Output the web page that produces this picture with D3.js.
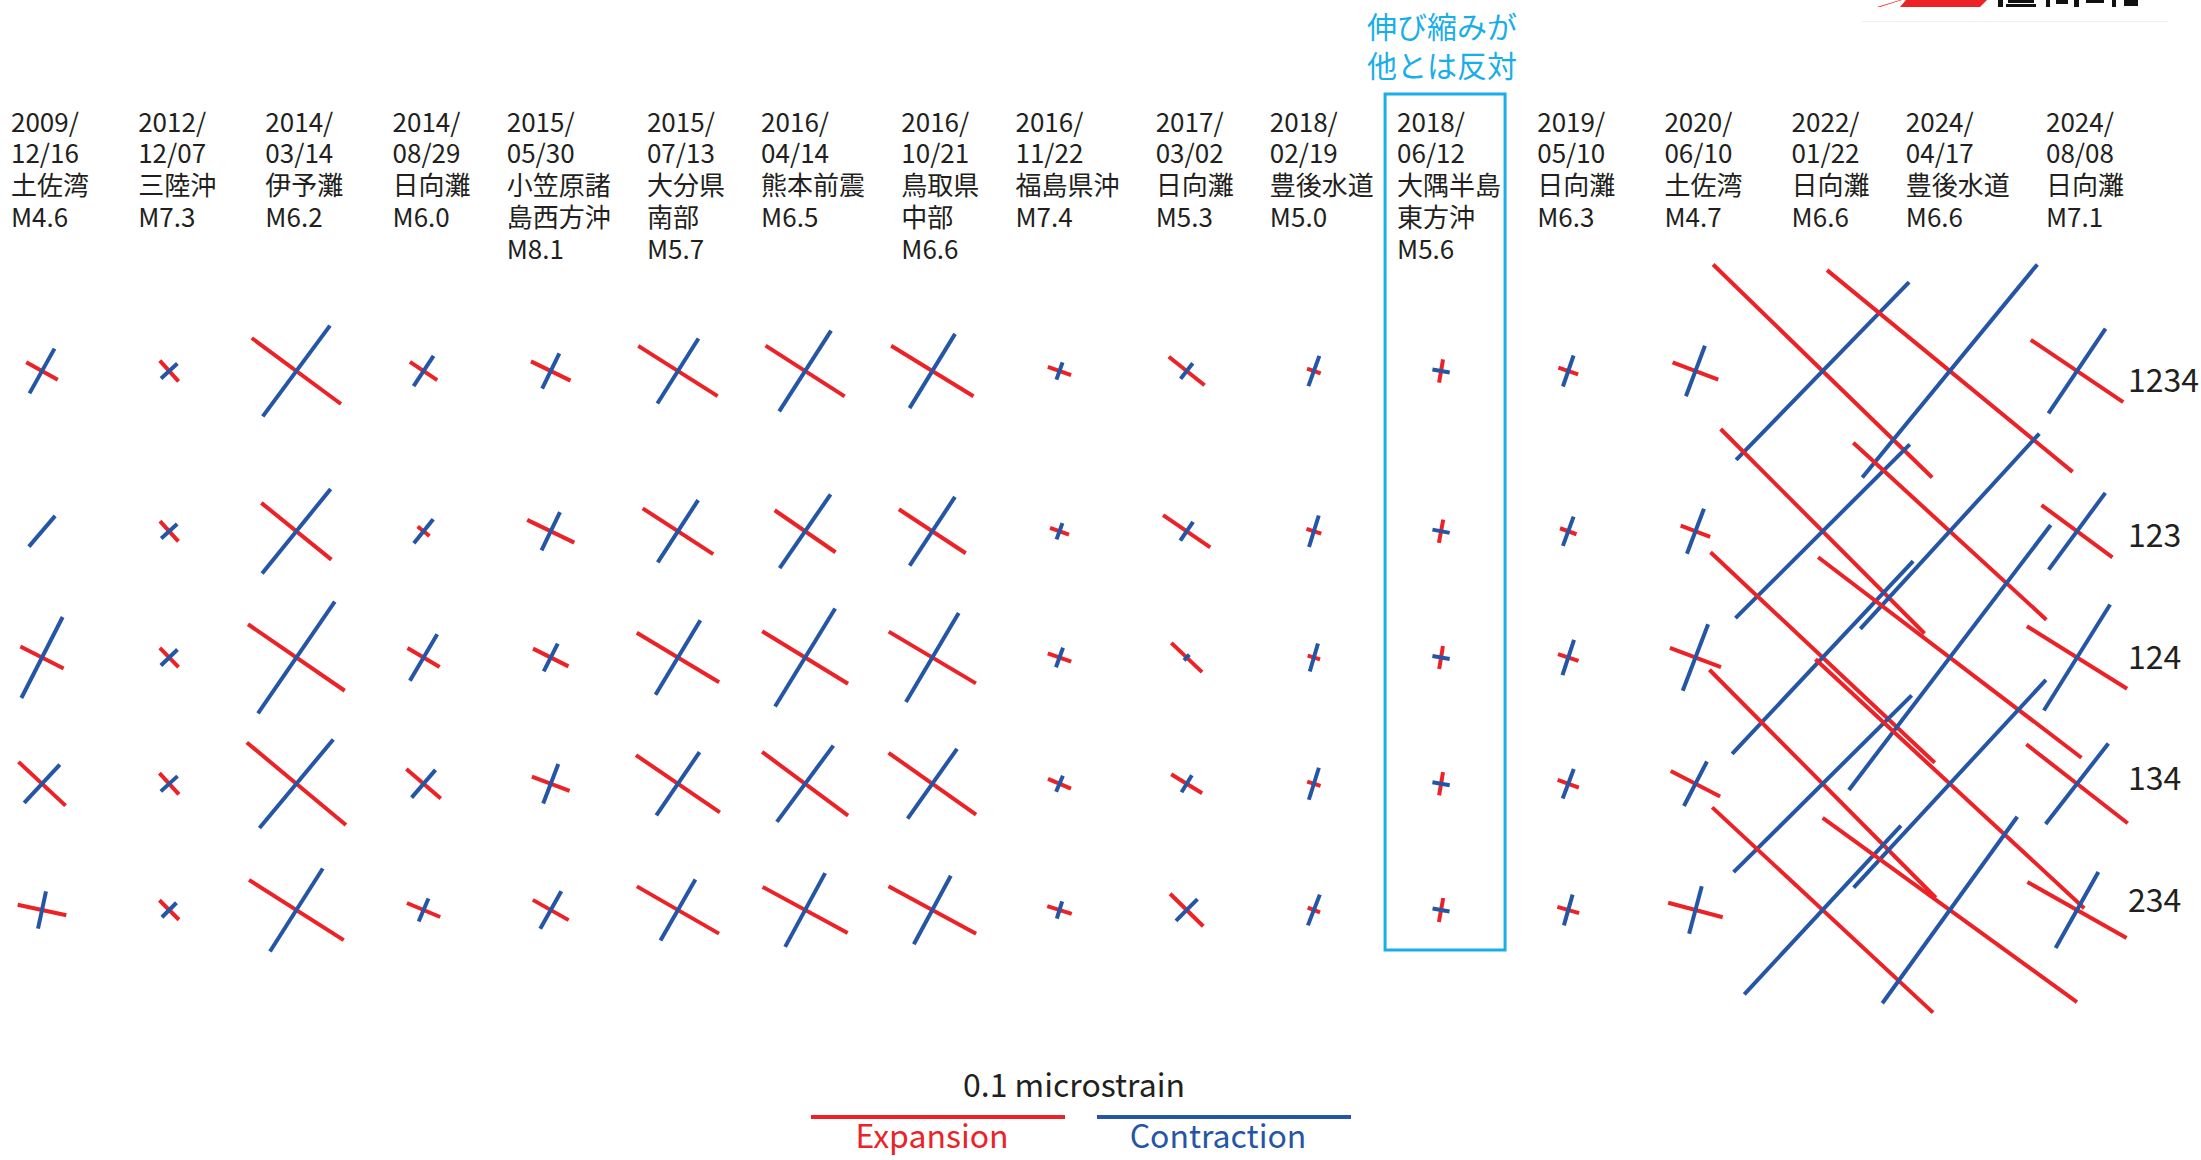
<!DOCTYPE html>
<html>
<head>
<meta charset="utf-8">
<script src="https://cdn.jsdelivr.net/npm/d3@7"></script>
<style>
  body { margin: 0; background: #fff; }
  text { font-family: "Noto Sans CJK JP", "Noto Sans", sans-serif; fill: #231f20; }
</style>
</head>
<body>
<div id="my_dataviz"></div>
<script>
// events
var dates = ["2009/12/16", "2012/12/07", "2014/03/14", "2014/08/29", "2015/05/30", "2015/07/13",
  "2016/04/14", "2016/10/21", "2016/11/22", "2017/03/02", "2018/02/19", "2018/06/12",
  "2019/05/10", "2020/06/10", "2022/01/22", "2024/04/17", "2024/08/08"];
var places = [["土佐湾"], ["三陸沖"], ["伊予灘"], ["日向灘"], ["小笠原諸", "島西方沖"], ["大分県", "南部"],
  ["熊本前震"], ["鳥取県", "中部"], ["福島県沖"], ["日向灘"], ["豊後水道"], ["大隅半島", "東方沖"],
  ["日向灘"], ["土佐湾"], ["日向灘"], ["豊後水道"], ["日向灘"]];
var magnitudes = ["M4.6", "M7.3", "M6.2", "M6.0", "M8.1", "M5.7", "M6.5", "M6.6", "M7.4", "M5.3",
  "M5.0", "M5.6", "M6.3", "M4.7", "M6.6", "M6.6", "M7.1"];

// station combinations (rows)
var rowLabels = ["1234", "123", "124", "134", "234"];

// strain in microstrain, one list of 5 rows per event
var expansion = [
  [0.0142, 0.0000, 0.0191, 0.0253, 0.0196],
  [0.0110, 0.0108, 0.0106, 0.0114, 0.0109],
  [0.0437, 0.0355, 0.0462, 0.0508, 0.0442],
  [0.0129, 0.0060, 0.0147, 0.0179, 0.0142],
  [0.0173, 0.0206, 0.0156, 0.0159, 0.0162],
  [0.0370, 0.0331, 0.0378, 0.0400, 0.0373],
  [0.0370, 0.0291, 0.0396, 0.0421, 0.0381],
  [0.0380, 0.0315, 0.0399, 0.0422, 0.0392],
  [0.0097, 0.0079, 0.0098, 0.0098, 0.0101],
  [0.0180, 0.0225, 0.0167, 0.0143, 0.0183],
  [0.0057, 0.0061, 0.0051, 0.0055, 0.0052],
  [0.0093, 0.0093, 0.0092, 0.0093, 0.0096],
  [0.0082, 0.0069, 0.0085, 0.0089, 0.0089],
  [0.0192, 0.0124, 0.0215, 0.0219, 0.0222],
  [0.1203, 0.1137, 0.1211, 0.1265, 0.1187],
  [0.1251, 0.1031, 0.1303, 0.1442, 0.1236],
  [0.0439, 0.0347, 0.0465, 0.0506, 0.0448]
];
var contraction = [
  [0.0202, 0.0159, 0.0358, 0.0206, 0.0150],
  [0.0087, 0.0085, 0.0091, 0.0089, 0.0081],
  [0.0445, 0.0429, 0.0534, 0.0454, 0.0387],
  [0.0142, 0.0122, 0.0212, 0.0144, 0.0099],
  [0.0155, 0.0167, 0.0123, 0.0167, 0.0169],
  [0.0303, 0.0292, 0.0343, 0.0302, 0.0276],
  [0.0378, 0.0353, 0.0453, 0.0374, 0.0330],
  [0.0343, 0.0324, 0.0407, 0.0337, 0.0306],
  [0.0072, 0.0068, 0.0082, 0.0069, 0.0071],
  [0.0077, 0.0089, 0.0030, 0.0078, 0.0121],
  [0.0127, 0.0130, 0.0115, 0.0132, 0.0130],
  [0.0069, 0.0069, 0.0069, 0.0069, 0.0068],
  [0.0129, 0.0123, 0.0146, 0.0124, 0.0126],
  [0.0213, 0.0190, 0.0280, 0.0197, 0.0194],
  [0.0977, 0.0969, 0.1041, 0.0988, 0.0906],
  [0.1086, 0.1043, 0.1311, 0.1114, 0.0906],
  [0.0402, 0.0376, 0.0492, 0.0402, 0.0343]
];
// direction of the expansion axis, degrees counter-clockwise from east
var axisAngle = [
  [-29.2, -40.6, -27.0, -42.9, -12.1],
  [-47.7, -47.8, -46.0, -47.7, -45.0],
  [-36.5, -39.0, -34.5, -39.8, -32.5],
  [-33.6, -38.6, -30.5, -40.8, -22.9],
  [-25.9, -25.8, -26.7, -20.9, -29.5],
  [-32.3, -33.0, -31.0, -34.3, -29.9],
  [-32.7, -34.6, -31.5, -36.5, -28.5],
  [-31.5, -33.4, -30.7, -35.3, -28.4],
  [-19.5, -19.8, -19.8, -22.8, -17.2],
  [-38.5, -34.5, -43.5, -31.6, -44.5],
  [-19.9, -17.2, -16.3, -17.4, -21.2],
  [80.4, 79.5, 80.8, 80.5, 79.7],
  [-19.0, -20.0, -18.2, -20.7, -15.8],
  [-20.6, -20.7, -20.9, -27.4, -14.9],
  [-44.2, -45.1, -43.2, -45.2, -42.9],
  [-39.4, -42.5, -37.3, -42.8, -35.9],
  [-34.0, -36.4, -32.0, -37.9, -29.4]
];
var highlight = 11;
var noteLines = ["伸び縮みが", "他とは反対"];

var width = 2201, height = 1160;
var red = "#ec2227", blue = "#2556a5", cyan = "#1aaee8";

var svg = d3.select("#my_dataviz")
  .append("svg")
    .attr("width", width)
    .attr("height", height);

// scales
var x = d3.scalePoint()
  .domain(d3.range(dates.length))
  .range([42, 2077]);
var y = d3.scalePoint()
  .domain(rowLabels)
  .range([405, 910]);
function rowY(r) { return y(r) - (r === rowLabels[0] ? 34 : 0); }
var yLabel = d3.scalePoint()
  .domain(rowLabels)
  .range([425, 912]);
var strain = d3.scaleLinear()
  .domain([0, 0.1])
  .range([0, 254]);

// logo remnant cut by the top edge
svg.append("line")
  .attr("x1", 1862).attr("x2", 2168).attr("y1", 21.5).attr("y2", 21.5)
  .attr("stroke", "#f0f0f0").attr("stroke-width", 1);
svg.append("path")
  .attr("d", "M1877,7 L1900,0 L1902,0 L1880,7 Z M1906,0 L1987,0 L1980,7 L1900,7 Z")
  .attr("fill", red);
svg.append("path")
  .attr("d", "M1998,0 h5 v7 h-5 Z M2008,0 h26 v3 h-26 Z M2006,4 h30 v3 h-30 Z M2046,0 h4 v7 h-4 Z" +
             " M2056,0 h12 v4 h-12 Z M2074,0 h5 v7 h-5 Z M2086,0 h18 v3 h-18 Z M2112,0 h4 v7 h-4 Z M2124,0 h14 v6 h-14 Z")
  .attr("fill", "#111");

// highlight box + note
svg.append("rect")
  .attr("x", x(highlight) - 56)
  .attr("y", 94)
  .attr("width", 120)
  .attr("height", 856)
  .attr("fill", "none")
  .attr("stroke", cyan)
  .attr("stroke-width", 3);
var note = svg.append("text")
  .attr("text-anchor", "middle")
  .style("font-size", "30px")
  .style("fill", cyan);
note.selectAll("tspan")
  .data(noteLines)
  .enter()
  .append("tspan")
    .attr("x", x(highlight) + 1)
    .attr("y", function(d, k) { return 38 + k * 39; })
    .text(function(d) { return d; });

// column headers
dates.forEach(function(d, i) {
  var parts = d.split("/");
  var lines = [parts[0] + "/", parts[1] + "/" + parts[2]].concat(places[i]).concat([magnitudes[i]]);
  var t = svg.append("text")
    .style("font-size", "26px");
  t.selectAll("tspan")
    .data(lines)
    .enter()
    .append("tspan")
      .attr("x", 0)
      .attr("y", function(s, k) { return 131.7 + k * 31.7; })
      .text(function(s) { return s; });
  var w = t.node().getBBox().width;
  t.attr("transform", "translate(" + (x(i) + 8 - w / 2) + ",0)");
});

// row labels
svg.selectAll(".rowlab")
  .data(rowLabels)
  .enter()
  .append("text")
    .attr("x", 2128)
    .attr("y", function(r, k) { return yLabel(r) - (k === 0 ? 33 : 0); })
    .style("font-size", "32px")
    .text(function(r) { return r; });

// strain crosses
var cells = [];
dates.forEach(function(d, i) {
  rowLabels.forEach(function(r, j) {
    cells.push({ i: i, row: r, exp: expansion[i][j], con: contraction[i][j], ang: axisAngle[i][j] });
  });
});

function seg(sel, value, ang) {
  sel
    .attr("x1", function(d) { var h = strain(value(d)) / 2; return x(d.i) - Math.cos(ang(d)) * h; })
    .attr("y1", function(d) { var h = strain(value(d)) / 2; return rowY(d.row) + Math.sin(ang(d)) * h; })
    .attr("x2", function(d) { var h = strain(value(d)) / 2; return x(d.i) + Math.cos(ang(d)) * h; })
    .attr("y2", function(d) { var h = strain(value(d)) / 2; return rowY(d.row) - Math.sin(ang(d)) * h; });
}

var cell = svg.selectAll(".cell")
  .data(cells)
  .enter()
  .append("g")
    .attr("class", "cell");
cell.filter(function(d) { return d.exp > 0; })
  .append("line")
    .call(seg, function(d) { return d.exp; }, function(d) { return d.ang * Math.PI / 180; })
    .attr("stroke", red)
    .attr("stroke-width", 4);
cell.append("line")
    .call(seg, function(d) { return d.con; }, function(d) { return (d.ang + 90) * Math.PI / 180; })
    .attr("stroke", blue)
    .attr("stroke-width", 4);

// legend
var legendX = 1081;
svg.append("text")
  .attr("x", legendX - 7)
  .attr("y", 1097)
  .attr("text-anchor", "middle")
  .style("font-size", "32px")
  .text("0.1 microstrain");
var legend = [
  { name: "Expansion", color: red, x0: legendX - 16 - strain(0.1) },
  { name: "Contraction", color: blue, x0: legendX + 16 }
];
svg.selectAll(".legbar")
  .data(legend)
  .enter()
  .append("line")
    .attr("x1", function(d) { return d.x0; })
    .attr("x2", function(d) { return d.x0 + strain(0.1); })
    .attr("y1", 1117)
    .attr("y2", 1117)
    .attr("stroke", function(d) { return d.color; })
    .attr("stroke-width", 4);
svg.selectAll(".legtext")
  .data(legend)
  .enter()
  .append("text")
    .attr("x", function(d) { return d.x0 + strain(0.1) / 2 - 6; })
    .attr("y", 1148)
    .attr("text-anchor", "middle")
    .style("font-size", "32px")
    .style("fill", function(d) { return d.color; })
    .text(function(d) { return d.name; });
</script>
</body>
</html>
